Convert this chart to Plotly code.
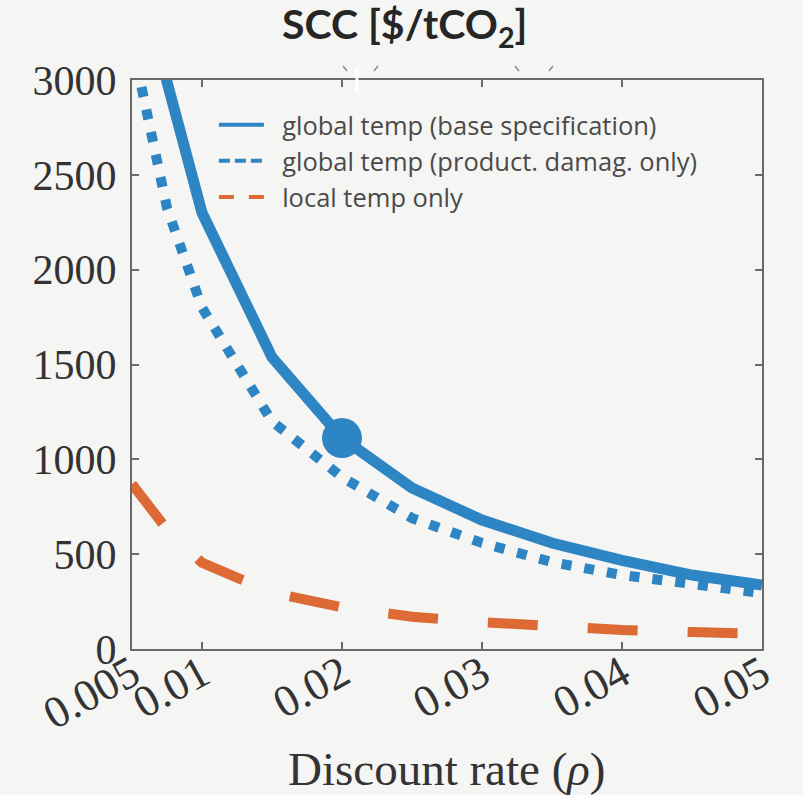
import plotly.graph_objects as go

# ---- data ----
discount_rate = [0.005, 0.0075, 0.01, 0.015, 0.02, 0.025, 0.03, 0.035, 0.04, 0.045, 0.05]
scc_global_base = [4100, 2990, 2300, 1538, 1112, 849, 680, 559, 467, 390, 337]
scc_global_prod = [3200, 2325, 1800, 1200, 906, 690, 559, 458, 390, 337, 295]
scc_local = [870, 630, 455, 297, 220, 170, 142, 117, 100, 89, 79]
highlight_rate = [0.02]
highlight_scc = [1112]

x_tickvals = [0.005, 0.01, 0.02, 0.03, 0.04, 0.05]
x_ticktext = ["0.005", "0.01", "0.02", "0.03", "0.04", "0.05"]
y_tickvals = [0, 500, 1000, 1500, 2000, 2500, 3000]
y_ticktext = ["0", "500", "1000", "1500", "2000", "2500", "3000"]

legend_names = ["global temp (base specification)",
                "global temp (product. damag. only)",
                "local temp only"]
x_title = "Discount rate (<i>ρ</i>)"

BLUE = "#2d85c3"
ORANGE = "#dd6a34"
BG = "#f5f5f3"
AX = "#6a6a6a"
SERIF = "Liberation Serif"
NB = "\u00a0\u00a0"

fig = go.Figure()

# data lines (no legend)
fig.add_trace(go.Scatter(x=discount_rate, y=scc_local, mode="lines",
                         line=dict(color=ORANGE, width=10, dash="50px,50px"),
                         showlegend=False, hoverinfo="skip"))
fig.add_trace(go.Scatter(x=discount_rate, y=scc_global_prod, mode="lines",
                         line=dict(color=BLUE, width=10, dash="10px,13px"),
                         showlegend=False, hoverinfo="skip"))
fig.add_trace(go.Scatter(x=discount_rate, y=scc_global_base, mode="lines",
                         line=dict(color=BLUE, width=11),
                         showlegend=False, hoverinfo="skip"))
fig.add_trace(go.Scatter(x=highlight_rate, y=highlight_scc, mode="markers",
                         marker=dict(color=BLUE, size=40),
                         showlegend=False, hoverinfo="skip"))

# legend entries
legend_styles = [dict(color=BLUE, width=4),
                 dict(color=BLUE, width=4, dash="11px,5px"),
                 dict(color=ORANGE, width=4, dash="15px,15px")]
for i, (name, st) in enumerate(zip(legend_names, legend_styles)):
    fig.add_trace(go.Scatter(x=[None], y=[None], mode="lines", name=NB + name,
                             line=st, legendgroup=f"g{i}", showlegend=True))

fig.update_layout(
    width=803, height=795,
    margin=dict(l=132, r=41, t=80, b=146, autoexpand=False),
    paper_bgcolor=BG, plot_bgcolor=BG,
    title=dict(text="<b>SCC [$/tCO<sub>2</sub>]</b>",
               font=dict(family="Lato", size=41, color="#262626"),
               x=0.504, xref="container", xanchor="center",
               y=1 - 25 / 795, yref="container", yanchor="middle"),
    legend=dict(x=0.13, y=0.962, xanchor="left", yanchor="top",
                bgcolor="rgba(0,0,0,0)", borderwidth=0,
                font=dict(family="Open Sans", size=25.5, color="#4a4a4a"),
                itemwidth=45, tracegroupgap=2,
                traceorder="normal"),
    showlegend=True,
)

fig.update_xaxes(range=[0.005, 0.05], tickvals=x_tickvals, ticktext=x_ticktext,
                 tickangle=-29, ticks="inside", ticklen=7, tickwidth=2,
                 tickcolor=AX, showline=True, linecolor=AX, linewidth=2,
                 mirror="ticks", showgrid=False, zeroline=False, automargin=False,
                 ticklabelstandoff=-21,
                 tickfont=dict(family=SERIF, size=45, color="#333333"))
fig.update_yaxes(range=[0, 3000], tickvals=y_tickvals, ticktext=y_ticktext,
                 ticks="inside", ticklen=7, tickwidth=2, tickcolor=AX,
                 showline=True, linecolor=AX, linewidth=2, mirror="ticks",
                 showgrid=False, zeroline=False, ticklabelstandoff=5, automargin=False,
                 tickfont=dict(family=SERIF, size=42, color="#333333"))

# x-axis title placed as an annotation below the rotated tick labels
fig.add_annotation(text=x_title, xref="paper", yref="paper", x=0.5,
                   y=-(769 - 649) / 569, xanchor="center", yanchor="middle",
                   showarrow=False,
                   font=dict(family=SERIF, size=47, color="#333333"))

# small scan artifacts near the top axis
fig.add_shape(type="line", xref="paper", yref="paper",
              x0=(357 - 132) / 630, x1=(357 - 132) / 630,
              y0=1 + 12 / 569, y1=1 - 12 / 569,
              line=dict(color="white", width=3))
for (xa, xb, ya, yb) in [(343, 347, 66, 71), (378, 374, 66, 71),
                         (515, 519, 66, 71), (553, 549, 66, 71)]:
    fig.add_shape(type="line", xref="paper", yref="paper",
                  x0=(xa - 132) / 630, x1=(xb - 132) / 630,
                  y0=1 + (80 - ya) / 569, y1=1 + (80 - yb) / 569,
                  line=dict(color="#8a8a8a", width=1.5))

fig.write_html("out.html")
